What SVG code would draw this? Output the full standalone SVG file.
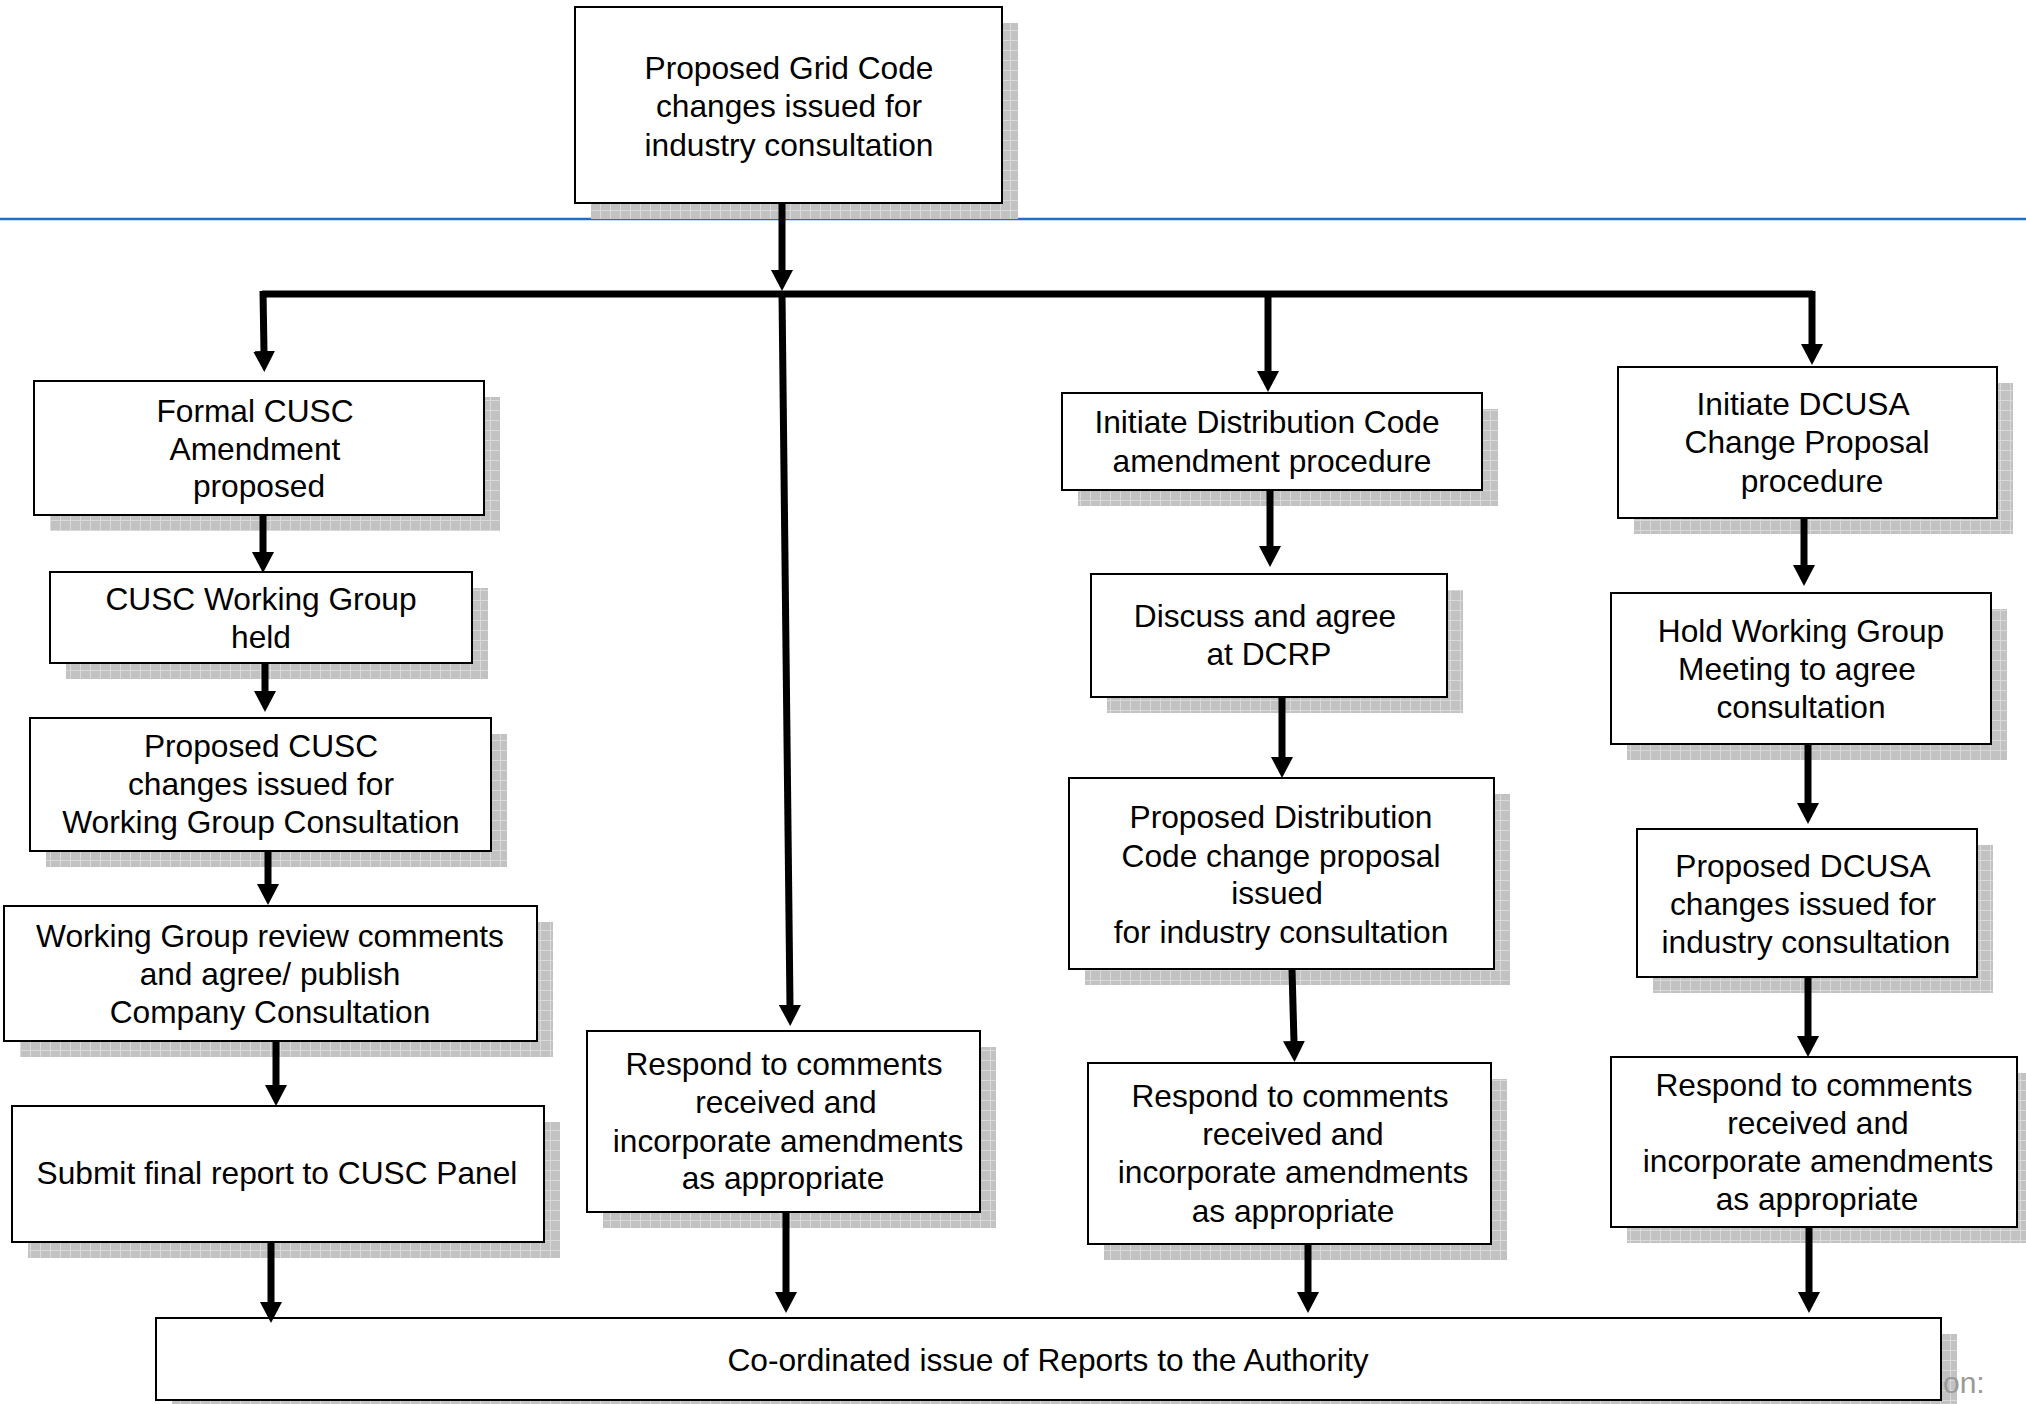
<svg xmlns="http://www.w3.org/2000/svg" width="2026" height="1404" viewBox="0 0 2026 1404">
<style>
.box{fill:#ffffff;stroke:#000000;stroke-width:2}
.sh{fill:url(#grid)}
.t{font-family:"Liberation Sans",Arial,sans-serif;font-size:31.7px;fill:#000000;text-anchor:middle}
.c{fill:none;stroke:#000000;stroke-width:7;marker-end:url(#ah)}
.bus{fill:none;stroke:#000000;stroke-width:7;stroke-linejoin:miter}
</style>
<defs>
<pattern id="grid" width="10" height="10" patternUnits="userSpaceOnUse">
<rect width="10" height="10" fill="#c2c2c2"/>
<path d="M0,0.5 H10 M0.5,0 V10" stroke="#d9d9d9" stroke-width="1"/>
</pattern>
<marker id="ah" viewBox="0 -11 21 22" refX="1" refY="0" markerWidth="21" markerHeight="22" markerUnits="userSpaceOnUse" orient="auto">
<path d="M0,-11 L21,0 L0,11 Z" fill="#000000"/>
</marker>
</defs>
<rect width="2026" height="1404" fill="#ffffff"/>
<line x1="0" y1="219" x2="2026" y2="219" stroke="#1f6fc8" stroke-width="2.5"/>

<g id="shadows">
<rect class="sh" x="591" y="23" width="427" height="196"/>
<rect class="sh" x="50" y="397" width="450" height="134"/>
<rect class="sh" x="66" y="588" width="422" height="91"/>
<rect class="sh" x="46" y="734" width="461" height="133"/>
<rect class="sh" x="20" y="922" width="533" height="135"/>
<rect class="sh" x="28" y="1122" width="532" height="136"/>
<rect class="sh" x="603" y="1047" width="393" height="181"/>
<rect class="sh" x="1078" y="409" width="420" height="97"/>
<rect class="sh" x="1107" y="590" width="356" height="123"/>
<rect class="sh" x="1085" y="794" width="425" height="191"/>
<rect class="sh" x="1104" y="1079" width="403" height="181"/>
<rect class="sh" x="1634" y="383" width="379" height="151"/>
<rect class="sh" x="1627" y="609" width="380" height="151"/>
<rect class="sh" x="1653" y="845" width="340" height="148"/>
<rect class="sh" x="1627" y="1073" width="399" height="170"/>
<rect class="sh" x="172" y="1334" width="1785" height="70"/>
</g>

<g id="n-top">
<rect class="box" x="575" y="7" width="427" height="196"/>
<text class="t" x="789" y="79">Proposed Grid Code</text>
<text class="t" x="789" y="117">changes issued for</text>
<text class="t" x="789" y="156">industry consultation</text>
</g>

<g id="n-formal-cusc">
<rect class="box" x="34" y="381" width="450" height="134"/>
<text class="t" x="255" y="422">Formal CUSC</text>
<text class="t" x="255" y="460">Amendment</text>
<text class="t" x="259" y="497">proposed</text>
</g>

<g id="n-cusc-wg">
<rect class="box" x="50" y="572" width="422" height="91"/>
<text class="t" x="261" y="610">CUSC Working Group</text>
<text class="t" x="261" y="648">held</text>
</g>

<g id="n-proposed-cusc">
<rect class="box" x="30" y="718" width="461" height="133"/>
<text class="t" x="261" y="757">Proposed CUSC</text>
<text class="t" x="261" y="795">changes issued for</text>
<text class="t" x="261" y="833">Working Group Consultation</text>
</g>

<g id="n-wg-review">
<rect class="box" x="4" y="906" width="533" height="135"/>
<text class="t" x="270" y="947">Working Group review comments</text>
<text class="t" x="270" y="985">and agree/ publish</text>
<text class="t" x="270" y="1023">Company Consultation</text>
</g>

<g id="n-submit">
<rect class="box" x="12" y="1106" width="532" height="136"/>
<text class="t" x="277" y="1184">Submit final report to CUSC Panel</text>
</g>

<g id="n-respond-center">
<rect class="box" x="587" y="1031" width="393" height="181"/>
<text class="t" x="784" y="1075">Respond to comments</text>
<text class="t" x="786" y="1113">received and</text>
<text class="t" x="788" y="1152">incorporate amendments</text>
<text class="t" x="783" y="1189">as appropriate</text>
</g>

<g id="n-dist-initiate">
<rect class="box" x="1062" y="393" width="420" height="97"/>
<text class="t" x="1267" y="433">Initiate Distribution Code</text>
<text class="t" x="1272" y="472">amendment procedure</text>
</g>

<g id="n-dcrp">
<rect class="box" x="1091" y="574" width="356" height="123"/>
<text class="t" x="1265" y="627">Discuss and agree</text>
<text class="t" x="1269" y="665">at DCRP</text>
</g>

<g id="n-dist-proposed">
<rect class="box" x="1069" y="778" width="425" height="191"/>
<text class="t" x="1281" y="828">Proposed Distribution</text>
<text class="t" x="1281" y="867">Code change proposal</text>
<text class="t" x="1277" y="904">issued</text>
<text class="t" x="1281" y="943">for industry consultation</text>
</g>

<g id="n-dist-respond">
<rect class="box" x="1088" y="1063" width="403" height="181"/>
<text class="t" x="1290" y="1107">Respond to comments</text>
<text class="t" x="1293" y="1145">received and</text>
<text class="t" x="1293" y="1183">incorporate amendments</text>
<text class="t" x="1293" y="1222">as appropriate</text>
</g>

<g id="n-dcusa-initiate">
<rect class="box" x="1618" y="367" width="379" height="151"/>
<text class="t" x="1803" y="415">Initiate DCUSA</text>
<text class="t" x="1807" y="453">Change Proposal</text>
<text class="t" x="1812" y="492">procedure</text>
</g>

<g id="n-dcusa-wg">
<rect class="box" x="1611" y="593" width="380" height="151"/>
<text class="t" x="1801" y="642">Hold Working Group</text>
<text class="t" x="1797" y="680">Meeting to agree</text>
<text class="t" x="1801" y="718">consultation</text>
</g>

<g id="n-dcusa-proposed">
<rect class="box" x="1637" y="829" width="340" height="148"/>
<text class="t" x="1803" y="877">Proposed DCUSA</text>
<text class="t" x="1803" y="915">changes issued for</text>
<text class="t" x="1806" y="953">industry consultation</text>
</g>

<g id="n-dcusa-respond">
<rect class="box" x="1611" y="1057" width="406" height="170"/>
<text class="t" x="1814" y="1096">Respond to comments</text>
<text class="t" x="1818" y="1134">received and</text>
<text class="t" x="1818" y="1172">incorporate amendments</text>
<text class="t" x="1817" y="1210">as appropriate</text>
</g>

<g id="n-final">
<rect class="box" x="156" y="1318" width="1785" height="82"/>
<text class="t" x="1048" y="1371">Co-ordinated issue of Reports to the Authority</text>
</g>

<text x="1943" y="1393" font-family="Liberation Sans,Arial,sans-serif" font-size="30" fill="#9a9a9a">on:</text>

<g id="connectors">
<path class="bus" d="M262,294 H1813"/>
<path class="c" d="M782,203 V271"/>
<path class="c" d="M263,291 L264,352"/>
<path class="c" d="M1812,291 V345"/>
<path class="c" d="M1268,294 V372"/>
<path class="c" d="M782,294 L790,1006"/>
<path class="c" d="M263,515 V553"/>
<path class="c" d="M265,663 V692"/>
<path class="c" d="M268,851 V885"/>
<path class="c" d="M276,1041 V1086"/>
<path class="c" d="M271,1242 V1303"/>
<path class="c" d="M786,1212 V1293"/>
<path class="c" d="M1270,490 V547"/>
<path class="c" d="M1282,697 V758"/>
<path class="c" d="M1292,969 L1294,1042"/>
<path class="c" d="M1308,1244 V1293"/>
<path class="c" d="M1804,518 V566"/>
<path class="c" d="M1808,744 V804"/>
<path class="c" d="M1808,977 V1037"/>
<path class="c" d="M1809,1227 V1293"/>
</g>
</svg>
